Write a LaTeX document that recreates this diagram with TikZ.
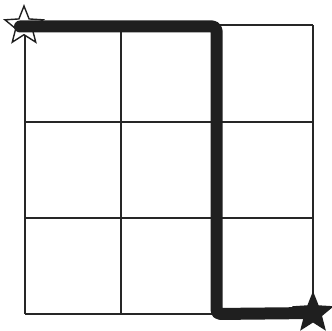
\documentclass[tikz,border=0pt]{standalone}
\usetikzlibrary{shapes.geometric}
\begin{document}
\begin{tikzpicture}[x=1pt,y=-1pt,
  gridline/.style={line width=2pt,black!85},
  route/.style={line width=12pt,black!88,line cap=round,line join=round,rounded corners=4pt},
  starmark/.style={star,star points=5,star point ratio=2.3,minimum size=40pt,inner sep=0pt,draw=black!88,line width=1.4pt}]
\useasboundingbox (0,0) rectangle (332,331);
\foreach \i in {0,1,2,3}{
  \draw[gridline] (24.5+96*\i,25.5) -- (24.5+96*\i,314);
  \draw[gridline] (24.5,25.5+96.2*\i) -- (312.5,25.5+96.2*\i);
}
\node[starmark,fill=white] (s) at (24,26) {};
\node[starmark,fill=black!88] (e) at (313,313) {};
\coordinate (c1) at (216.5,26.5);
\coordinate (c2) at (216.5,314);
\draw[route] (20,26.5) -- (c1) -- (c2) -- (e.center);
\end{tikzpicture}
\end{document}
